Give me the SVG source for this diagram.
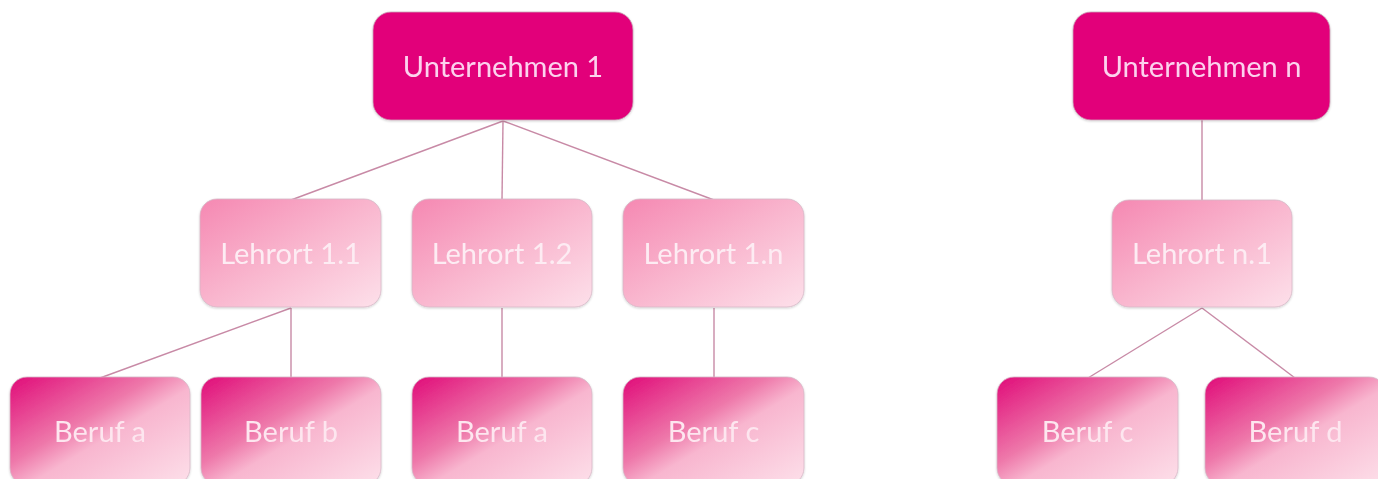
<svg xmlns="http://www.w3.org/2000/svg" width="1378" height="479" viewBox="0 0 1378 479">
  <style>
    .lbl { font-family: Lato, "Open Sans", "Liberation Sans", sans-serif; font-size: 29px; text-anchor: middle; }
    .top rect { fill: #e2007a; stroke: #c9a6b8; stroke-width: 0.8; }
    .top text { fill: #fcd2ee; }
    .mid rect { fill: url(#gMid); stroke: #d6b8c6; stroke-width: 0.8; }
    .mid text { fill: #fdecf3; }
    .leaf rect { fill: url(#gLeaf); stroke: #d6b8c6; stroke-width: 0.8; }
    .leaf text { fill: #fde6ef; }
    .edges line { stroke: #c88aa6; stroke-width: 1.4; }
  </style>
  <defs>
    <linearGradient id="gMid" x1="0" y1="0" x2="1" y2="1">
      <stop offset="0" stop-color="#f588b2"/>
      <stop offset="0.5" stop-color="#f9b6ce"/>
      <stop offset="1" stop-color="#fde0ea"/>
    </linearGradient>
    <linearGradient id="gLeaf" x1="0" y1="0" x2="1" y2="1">
      <stop offset="0" stop-color="#e00c79"/>
      <stop offset="0.4" stop-color="#ee78aa"/>
      <stop offset="0.55" stop-color="#f8b6cf"/>
      <stop offset="1" stop-color="#fde0ea"/>
    </linearGradient>
    <filter id="sh" x="-10%" y="-10%" width="120%" height="130%">
      <feDropShadow dx="0" dy="1" stdDeviation="1" flood-color="#000" flood-opacity="0.18"/>
    </filter>
  </defs>

  <!-- connectors -->
  <g class="edges">
    <line x1="503" y1="121" x2="291" y2="200"/>
    <line x1="503" y1="121" x2="502" y2="200"/>
    <line x1="503" y1="121" x2="714" y2="200"/>
    <line x1="291" y1="308" x2="100" y2="378"/>
    <line x1="291" y1="308" x2="291" y2="378"/>
    <line x1="502" y1="308" x2="502" y2="378"/>
    <line x1="714" y1="308" x2="714" y2="378"/>
    <line x1="1202" y1="120" x2="1202" y2="200"/>
    <line x1="1202" y1="308" x2="1088" y2="378"/>
    <line x1="1202" y1="308" x2="1295" y2="378"/>
  </g>

  <!-- companies -->
  <g id="unternehmen-1" class="top" filter="url(#sh)">
    <rect x="373" y="12" width="260" height="108" rx="18"/>
    <text class="lbl" x="503" y="77">Unternehmen 1</text>
  </g>
  <g id="unternehmen-n" class="top" filter="url(#sh)">
    <rect x="1073" y="12" width="257" height="108" rx="18"/>
    <text class="lbl" x="1201.5" y="77">Unternehmen n</text>
  </g>

  <!-- training sites -->
  <g id="lehrort-1-1" class="mid" filter="url(#sh)">
    <rect x="200" y="199" width="181" height="108" rx="17"/>
    <text class="lbl" x="290.5" y="264">Lehrort 1.1</text>
  </g>
  <g id="lehrort-1-2" class="mid" filter="url(#sh)">
    <rect x="412" y="199" width="180" height="108" rx="17"/>
    <text class="lbl" x="502" y="264">Lehrort 1.2</text>
  </g>
  <g id="lehrort-1-n" class="mid" filter="url(#sh)">
    <rect x="623" y="199" width="181" height="108" rx="17"/>
    <text class="lbl" x="713.5" y="264">Lehrort 1.n</text>
  </g>
  <g id="lehrort-n-1" class="mid" filter="url(#sh)">
    <rect x="1112" y="200" width="180" height="107" rx="17"/>
    <text class="lbl" x="1202" y="264">Lehrort n.1</text>
  </g>

  <!-- occupations -->
  <g id="beruf-a-1" class="leaf" filter="url(#sh)">
    <rect x="10" y="377" width="180" height="108" rx="17"/>
    <text class="lbl" x="100" y="442">Beruf a</text>
  </g>
  <g id="beruf-b" class="leaf" filter="url(#sh)">
    <rect x="201" y="377" width="180" height="108" rx="17"/>
    <text class="lbl" x="291" y="442">Beruf b</text>
  </g>
  <g id="beruf-a-2" class="leaf" filter="url(#sh)">
    <rect x="412" y="377" width="180" height="108" rx="17"/>
    <text class="lbl" x="502" y="442">Beruf a</text>
  </g>
  <g id="beruf-c-1" class="leaf" filter="url(#sh)">
    <rect x="623" y="377" width="181" height="108" rx="17"/>
    <text class="lbl" x="713.5" y="442">Beruf c</text>
  </g>
  <g id="beruf-c-2" class="leaf" filter="url(#sh)">
    <rect x="997" y="377" width="181" height="108" rx="17"/>
    <text class="lbl" x="1087.5" y="442">Beruf c</text>
  </g>
  <g id="beruf-d" class="leaf" filter="url(#sh)">
    <rect x="1205" y="377" width="181" height="108" rx="17"/>
    <text class="lbl" x="1295.5" y="442">Beruf d</text>
  </g>
</svg>
